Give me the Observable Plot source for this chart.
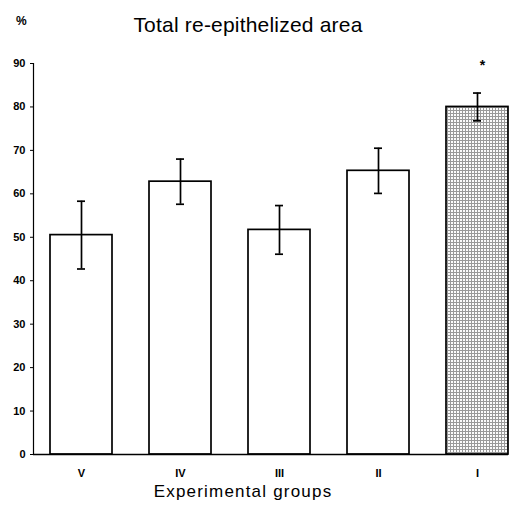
<!DOCTYPE html>
<html><head><meta charset="utf-8">
<script src="https://cdn.jsdelivr.net/npm/d3@7"></script>
<script src="https://cdn.jsdelivr.net/npm/@observablehq/plot@0.6"></script>
<style>
body{margin:0;background:#fff;font-family:"Liberation Sans",Arial,sans-serif;}
#wrap{position:relative;width:509px;height:506px;overflow:hidden;}
#hdr{position:relative;height:56px;}
#pct{position:absolute;left:16px;top:14px;font-size:12px;font-weight:bold;}
#title{position:absolute;left:0;width:496px;top:13px;text-align:center;font-size:21px;letter-spacing:0.2px;line-height:24px;}
#cap{position:absolute;left:0;width:486px;top:482px;text-align:center;font-size:17px;letter-spacing:1.2px;line-height:20px;}
</style></head>
<body><div id="wrap"><div id="hdr"><div id="pct">%</div><div id="title">Total re-epithelized area</div></div><div id="chart"></div><div id="cap">Experimental groups</div></div>
<script>
const groups = ["V", "IV", "III", "II", "I"];
const means = [50.5, 62.8, 51.7, 65.3, 80.0];
const errs = [7.8, 5.2, 5.6, 5.2, 3.2];
const highlighted = ["I"];
const yTicks = [0, 10, 20, 30, 40, 50, 60, 70, 80, 90];

const data = groups.map((g, i) => ({g, m: means[i], lo: means[i] - errs[i], hi: means[i] + errs[i], hl: highlighted.includes(g)}));

const chart = Plot.plot({
  width: 509, height: 425,
  marginLeft: 33, marginRight: 1, marginTop: 7, marginBottom: 27,
  style: {fontFamily: "Liberation Sans, Arial, sans-serif", background: "#fff"},
  x: {domain: groups, range: [50, 508], paddingInner: 0.374, paddingOuter: 0, label: null},
  y: {domain: [0, 90], label: null},
  marks: [
    Plot.barY(data, {x: "g", y: "m", fill: d => d.hl ? "url(#stipple)" : "white", stroke: "black", strokeWidth: 1.7}),
    Plot.ruleX(data, {x: "g", y1: "lo", y2: "hi", stroke: "black", strokeWidth: 1.7}),
    Plot.tickY(data, {x: "g", y: "lo", insetLeft: 27, insetRight: 27, stroke: "black", strokeWidth: 1.7}),
    Plot.tickY(data, {x: "g", y: "hi", insetLeft: 27, insetRight: 27, stroke: "black", strokeWidth: 1.7}),
    Plot.text(data.filter(d => d.hl), {x: "g", y: 90, text: () => "*", fontSize: 14, fontWeight: "bold", dy: 2, dx: 5}),
    Plot.ruleY([0], {stroke: "black", strokeWidth: 1.5}),
    Plot.frame({anchor: "left", stroke: "black", strokeWidth: 1.2}),
    Plot.axisY({ticks: yTicks, tickSize: 3, tickPadding: 5, fontSize: 11, fontWeight: "bold", label: null}),
    Plot.axisX({tickSize: 0, tickPadding: 15, fontSize: 11, fontWeight: "bold", label: null})
  ]
});
const svg = d3.select(chart);
const defs = svg.insert("defs", ":first-child");
const pat = defs.append("pattern").attr("id", "stipple").attr("patternUnits", "userSpaceOnUse").attr("width", 3).attr("height", 3);
pat.append("rect").attr("width", 3).attr("height", 3).attr("fill", "#fbfbfb");
pat.append("path").attr("d", "M0 0.5H3M0.5 0V3").attr("stroke", "#999").attr("stroke-width", 1);
document.getElementById("chart").appendChild(chart);
</script></body></html>
